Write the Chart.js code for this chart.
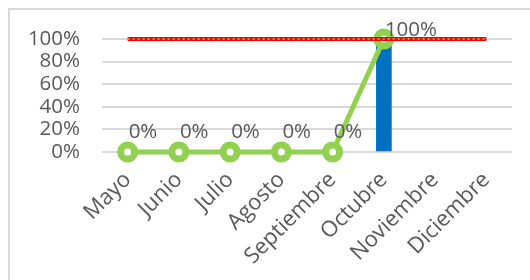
<!DOCTYPE html>
<html>
<head>
<meta charset="utf-8">
<script src="https://cdn.jsdelivr.net/npm/chart.js@4/dist/chart.umd.min.js"></script>
<style>
    html, body { margin: 0; padding: 0; background: #fff; }
    body { width: 530px; height: 280px; position: relative; overflow: hidden; }
    #frame { position: absolute; left: 8px; top: 8px; width: 600px; height: 400px; border: 2px solid #d9d9d9; }
    #wrap { position: absolute; left: 0; top: 0; width: 530px; height: 280px; }
</style>
</head>
<body>
<div id="frame"></div>
<div id="wrap"><canvas id="chart"></canvas></div>
<script>
// Chart data
const months = ['Mayo', 'Junio', 'Julio', 'Agosto', 'Septiembre', 'Octubre', 'Noviembre', 'Diciembre'];
const avance = [0, 0, 0, 0, 0, 1, null, null];
const ejecutado = [null, null, null, null, null, 1, null, null];
const meta = [1, 1, 1, 1, 1, 1, 1, 1];
const yTicks = [0, 0.2, 0.4, 0.6, 0.8, 1];

const gray = '#595959';

// Draw percentage labels above the green line points
const pointLabels = {
    id: 'pointLabels',
    afterDatasetsDraw(chart) {
        const ctx = chart.ctx;
        const lineMeta = chart.getDatasetMeta(1);
        ctx.save();
        ctx.font = '20.5px "Open Sans"';
        ctx.fillStyle = gray;
        ctx.textAlign = 'left';
        ctx.textBaseline = 'alphabetic';
        lineMeta.data.forEach(function(pt, i) {
            const v = avance[i];
            if (v === null) return;
            const y = Math.max(pt.y - 14, 36);
            ctx.fillText(Math.round(v * 100) + '%', pt.x + 1, y);
        });
        ctx.restore();
    }
};

new Chart(document.getElementById('chart'), {
    data: {
        labels: months,
        datasets: [
            {
                type: 'line',
                data: meta,
                borderColor: '#ff0000',
                borderWidth: 4,
                pointRadius: 0,
                clip: false,
                order: 0
            },
            {
                type: 'line',
                data: avance,
                borderColor: '#92d050',
                borderWidth: 5,
                pointRadius: 7,
                pointBorderWidth: 7,
                pointBackgroundColor: '#ffffff',
                pointBorderColor: '#92d050',
                clip: false,
                order: 2
            },
            {
                type: 'bar',
                data: ejecutado,
                backgroundColor: '#0070c0',
                barThickness: 15,
                order: 3
            },
            {
                type: 'line',
                data: meta,
                borderColor: '#a9c94a',
                borderWidth: 1.5,
                borderDash: [2, 3],
                pointRadius: 0,
                clip: false,
                order: -1
            }
        ]
    },
    options: {
        responsive: true,
        maintainAspectRatio: false,
        animation: false,
        layout: { padding: { top: 39, right: 18, left: 0, bottom: 0 } },
        plugins: {
            legend: { display: false },
            tooltip: { enabled: false }
        },
        scales: {
            x: {
                offset: true,
                grid: { display: false },
                border: { display: false },
                ticks: {
                    color: gray,
                    font: { family: 'Open Sans', size: 22 },
                    minRotation: 45,
                    maxRotation: 45,
                    autoSkip: false,
                    padding: 7
                },
                afterFit: function(scale) { scale.height = 128; }
            },
            y: {
                min: 0,
                max: 1,
                afterBuildTicks: function(scale) {
                    scale.ticks = yTicks.map(function(v) { return { value: v }; });
                },
                grid: { color: '#d9d9d9', lineWidth: 2, drawTicks: false },
                border: { display: false },
                ticks: {
                    color: gray,
                    font: { family: 'Open Sans', size: 20.5 },
                    padding: 22,
                    autoSkip: false,
                    callback: function(v) { return Math.round(v * 100) + '%'; }
                },
                afterFit: function(scale) { scale.width = 102; }
            }
        }
    },
    plugins: [pointLabels]
});
</script>
</body>
</html>
